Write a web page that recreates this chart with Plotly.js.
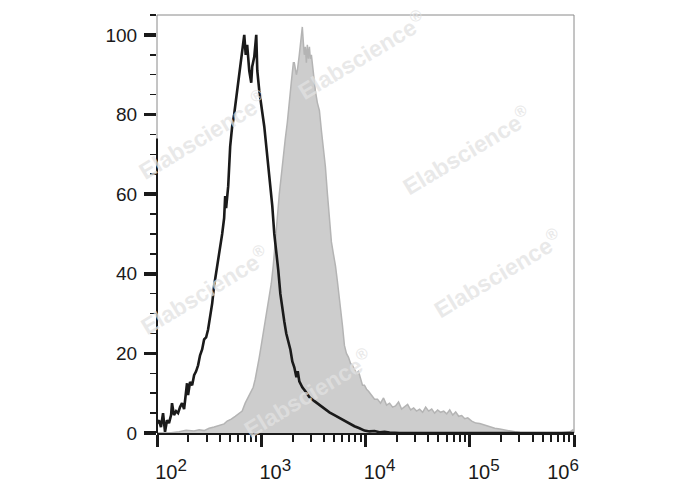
<!DOCTYPE html>
<html>
<head>
<meta charset="utf-8">
<script src="https://cdn.plot.ly/plotly-3.0.1.min.js"></script>
<style>html,body{margin:0;padding:0;background:#fff;}#chart{width:688px;height:490px;}</style>
</head>
<body>
<div id="chart"></div>
<script>
// Fluorescence positions are read in decades (log10 of intensity); counts in % of max.
const controlDecades = [2.000,2.019,2.038,2.058,2.077,2.096,2.115,2.135,2.144,2.163,2.183,2.202,2.221,2.240,2.260,2.279,2.288,2.298,2.317,2.337,2.356,2.375,2.394,2.413,2.433,2.452,2.471,2.490,2.510,2.529,2.548,2.567,2.587,2.606,2.625,2.644,2.654,2.663,2.683,2.702,2.721,2.740,2.760,2.779,2.798,2.817,2.837,2.851,2.865,2.885,2.904,2.913,2.933,2.952,2.962,2.981,3.000,3.010,3.029,3.048,3.067,3.087,3.106,3.125,3.144,3.163,3.183,3.202,3.221,3.240,3.260,3.279,3.298,3.317,3.337,3.350,3.365,3.394,3.423,3.462,3.510,3.558,3.606,3.654,3.702,3.750,3.798,3.846,3.894,3.942,3.990,4.038,4.087,4.135,4.183,4.231,4.327,5.000,6.000];
const controlCounts  = [2.4,3.2,1.5,5.0,0.3,3.2,2.5,4.5,7.5,4.5,5.5,5.0,6.5,7.5,6.0,10.0,12.5,9.5,12.8,12.0,14.5,15.5,17.0,19.5,21.0,23.5,24.0,26.0,29.0,32.5,37.0,40.0,43.0,46.5,50.0,54.0,59.5,56.5,62.0,72.0,77.0,80.0,84.0,88.0,93.0,96.0,100.0,95.0,97.5,91.0,88.0,92.0,94.5,100.0,91.0,86.0,83.0,80.5,77.0,72.0,67.0,63.0,57.0,50.0,46.0,41.0,35.0,31.0,28.0,25.0,23.0,21.0,18.0,16.5,14.0,15.5,13.0,11.5,10.5,9.0,8.0,7.0,6.0,5.2,4.5,3.8,3.0,2.5,1.7,1.2,0.6,0.4,0.5,0.2,0.3,0.1,0.0,0.0,0.0];

const stainedDecades = [2.000,2.115,2.212,2.279,2.356,2.404,2.452,2.500,2.548,2.596,2.644,2.673,2.712,2.750,2.788,2.817,2.846,2.875,2.904,2.923,2.942,2.962,2.981,3.000,3.019,3.038,3.058,3.077,3.096,3.115,3.135,3.154,3.173,3.192,3.212,3.231,3.250,3.269,3.288,3.308,3.317,3.337,3.346,3.365,3.385,3.394,3.404,3.413,3.423,3.433,3.442,3.452,3.462,3.471,3.481,3.500,3.519,3.538,3.558,3.577,3.596,3.615,3.635,3.654,3.673,3.692,3.712,3.731,3.750,3.769,3.779,3.798,3.817,3.837,3.856,3.875,3.894,3.913,3.933,3.952,3.971,3.990,4.010,4.029,4.058,4.087,4.115,4.144,4.173,4.202,4.231,4.260,4.288,4.317,4.346,4.375,4.404,4.433,4.462,4.490,4.519,4.548,4.577,4.606,4.635,4.663,4.692,4.721,4.750,4.779,4.808,4.837,4.865,4.894,4.923,4.952,4.981,5.019,5.058,5.096,5.144,5.192,5.240,5.288,5.337,5.385,5.433,5.481,5.577,5.865,5.962,5.990,6.000];
const stainedCounts  = [0.0,0.0,0.3,0.7,0.5,0.8,0.6,1.2,1.5,2.0,2.3,3.0,3.5,4.2,5.0,5.5,7.5,9.0,10.5,11.5,13.5,16.0,19.0,22.0,25.0,28.0,32.0,35.0,37.5,42.0,47.5,54.0,60.0,65.0,70.0,74.0,78.0,84.0,88.0,93.0,93.0,90.0,91.0,95.0,99.0,102.0,98.0,95.0,97.0,93.0,97.5,94.0,97.0,94.0,95.0,90.0,86.0,83.0,81.0,76.0,72.0,67.0,60.0,53.0,48.0,45.0,42.0,38.0,34.0,30.0,27.0,22.0,20.0,19.0,17.5,17.0,16.0,15.0,15.5,13.5,12.0,12.0,11.0,10.5,9.5,8.5,8.5,7.5,8.8,7.0,7.5,6.5,6.8,7.8,6.0,6.5,7.2,5.8,6.3,5.5,6.0,5.2,6.5,5.5,6.0,5.0,5.8,5.2,5.5,4.8,5.8,4.5,5.3,4.2,4.4,3.6,3.8,3.0,2.5,2.4,2.0,1.5,1.2,1.0,0.7,0.5,0.3,0.1,0.0,0.0,0.3,0.8,0.5];

const xTickVals = [1e2, 1e3, 1e4, 1e5, 1e6];
const xTickExp  = ["2", "3", "4", "5", "6"];
const yTickVals = [0, 20, 40, 60, 80, 100];
const yTickText = ["0", "20", "40", "60", "80", "100"];

const watermarkText = "Elabscience<sup>®</sup>";
const watermarkSpots = [[0.490,0.905],[0.108,0.713],[0.743,0.677],[0.817,0.383],[0.113,0.342],[0.361,0.096]];

const toIntensity = d => Math.pow(10, d);
// last label sits flush against the right edge in the reference, so pad it to the left
const xTickText = xTickExp.map((e, i) =>
  "10<sup><span style='font-size:17px'>" + e + "</span></sup>" +
  (i === xTickExp.length - 1 ? "\u00A0".repeat(9) : ""));

const traces = [
  {
    x: stainedDecades.map(toIntensity), y: stainedCounts,
    type: 'scatter', mode: 'lines', fill: 'tozeroy',
    fillcolor: '#cdcdcd', line: {color: '#b4b4b4', width: 1.5},
    hoverinfo: 'skip', showlegend: false
  },
  {
    x: controlDecades.map(toIntensity), y: controlCounts,
    type: 'scatter', mode: 'lines',
    line: {color: '#1a1a1a', width: 2.6},
    hoverinfo: 'skip', showlegend: false
  }
];

const tickFont = {family: 'Liberation Sans, Arial, sans-serif', size: 19, color: '#1a1a1a'};
const xTickFont = {family: 'Liberation Sans, Arial, sans-serif', size: 20, color: '#1a1a1a'};

const layout = {
  width: 688, height: 490,
  margin: {l: 157, r: 114, t: 15, b: 57},
  paper_bgcolor: '#ffffff', plot_bgcolor: '#ffffff',
  showlegend: false,
  xaxis: {
    type: 'log', range: [2, 6], showgrid: false, zeroline: false,
    showline: true, linecolor: '#1a1a1a', linewidth: 2,
    ticks: 'outside', ticklen: 12, tickwidth: 3, tickcolor: '#1a1a1a',
    tickvals: xTickVals, ticktext: xTickText, tickfont: xTickFont,
    ticklabelshift: 14, ticklabelstandoff: 8,
    minor: {dtick: 'D1', ticks: 'outside', ticklen: 7, tickwidth: 2, tickcolor: '#1a1a1a', showgrid: false}
  },
  yaxis: {
    range: [0, 105], showgrid: false, zeroline: false, showline: false,
    ticks: 'outside', ticklen: 12, tickwidth: 3.5, tickcolor: '#1a1a1a',
    tickvals: yTickVals, ticktext: yTickText, tickfont: tickFont,
    ticklabelstandoff: 3,
    minor: {dtick: 5, tick0: 0, ticks: 'outside', ticklen: 6, tickwidth: 1.5, tickcolor: '#1a1a1a', showgrid: false}
  },
  shapes: [
    {type: 'rect', xref: 'paper', yref: 'paper', x0: 0, x1: 1, y0: 0, y1: 1,
     line: {color: '#8a8a8a', width: 1}, layer: 'below'},
    {type: 'line', xref: 'paper', yref: 'y', x0: 0, x1: 0, y0: 0, y1: 74,
     line: {color: '#1a1a1a', width: 2}, layer: 'above'}
  ],
  annotations: watermarkSpots.map(p => ({
    xref: 'paper', yref: 'paper', x: p[0], y: p[1], text: watermarkText,
    xanchor: 'center', yanchor: 'middle',
    showarrow: false, textangle: -31,
    font: {family: 'Liberation Sans, Arial, sans-serif', size: 23, color: 'rgba(226,226,226,0.75)', weight: 'bold'}
  }))
};

Plotly.newPlot('chart', traces, layout, {staticPlot: true, displayModeBar: false});
</script>
</body>
</html>
